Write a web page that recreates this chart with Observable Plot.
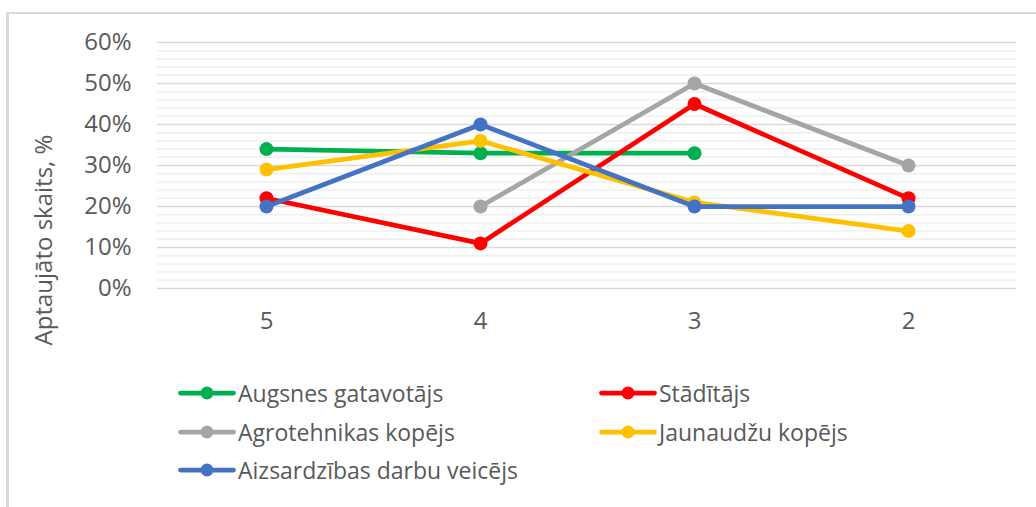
<!DOCTYPE html>
<html>
<head>
<meta charset="utf-8">
<script src="https://cdn.jsdelivr.net/npm/d3@7"></script>
<script src="https://cdn.jsdelivr.net/npm/@observablehq/plot@0.6"></script>
<style>
  html, body { margin: 0; padding: 0; background: #fff; }
  #wrap { position: relative; width: 1036px; height: 507px; overflow: hidden; font-family: "Open Sans", sans-serif; color: #595959; }
  #frame { position: absolute; left: 6px; top: 12px; width: 1040px; height: 500px; border-top: 2px solid #d9d9d9; border-left: 3px solid #d9d9d9; box-sizing: border-box; }
  #chart { position: absolute; left: 0; top: 0; }
  #chart svg text { font-size: 24px !important; font-family: "Open Sans", sans-serif !important; }
  #ylabel { position: absolute; left: 43px; top: 240px; transform: translate(-50%, -50%) rotate(-90deg); white-space: nowrap; font-size: 24px; line-height: 1; }
  .leg { position: absolute; display: flex; align-items: center; font-size: 23px; white-space: nowrap; transform: translateY(-50%); }
  .leg svg { display: block; margin-right: 2px; }
</style>
</head>
<body>
<div id="wrap">
  <div id="frame"></div>
  <div id="chart"></div>
  <div id="ylabel">Aptaujāto skaits, %</div>
  <div id="legend"></div>
</div>
<script>
const categories = ["5", "4", "3", "2"];
const seriesNames = ["Augsnes gatavotājs", "Stādītājs", "Agrotehnikas kopējs", "Jaunaudžu kopējs", "Aizsardzības darbu veicējs"];
const seriesColors = ["#00b050", "#ff0000", "#a5a5a5", "#ffc000", "#4472c4"];
const augsnesGatavotajs = [34, 33, 33, null];
const staditajs = [22, 11, 45, 22];
const agrotehnikasKopejs = [null, 20, 50, 30];
const jaunauduKopejs = [29, 36, 21, 14];
const aizsardzibasVeicejs = [20, 40, 20, 20];
const seriesValues = [augsnesGatavotajs, staditajs, agrotehnikasKopejs, jaunauduKopejs, aizsardzibasVeicejs];
const yMajorTicks = [0, 10, 20, 30, 40, 50, 60];
const yMinorTicks = d3.range(0, 61, 2).filter(v => v % 10 !== 0);

const rows = seriesNames.map((name, i) =>
  categories.map((c, j) => ({series: name, cat: c, value: seriesValues[i][j]}))
    .filter(d => d.value != null)
);

const seriesMarks = rows.flatMap((data, i) => [
  Plot.line(data, {x: "cat", y: "value", stroke: seriesColors[i], strokeWidth: 4.75, strokeLinejoin: "round", strokeLinecap: "round"}),
  Plot.dot(data, {x: "cat", y: "value", fill: seriesColors[i], r: 7, stroke: "none"})
]);

const chart = Plot.plot({
  width: 1036,
  height: 345,
  marginTop: 42,
  marginBottom: 57,
  marginLeft: 157,
  marginRight: 20,
  style: {fontFamily: "Open Sans, sans-serif", fontSize: "24px", color: "#595959", background: "transparent"},
  x: {type: "point", domain: categories, padding: 0.5},
  y: {domain: [0, 60]},
  marks: [
    Plot.ruleY(yMinorTicks, {stroke: "#f0f0f0", strokeWidth: 1.5}),
    Plot.ruleY(yMajorTicks, {stroke: "#d9d9d9", strokeWidth: 1.5}),
    Plot.axisY({ticks: yMajorTicks, tickSize: 0, tickPadding: 26, tickFormat: d => d + "%", label: null, fontSize: 24, fill: "#595959"}),
    Plot.axisX({tickSize: 0, tickPadding: 23, label: null, fontSize: 24, fill: "#595959"}),
    ...seriesMarks
  ]
});
document.getElementById("chart").appendChild(chart);

// Legend
const legendPos = [[178, 393], [599, 393], [178, 432], [599, 432], [178, 470]];
const legend = document.getElementById("legend");
seriesNames.forEach((name, i) => {
  const div = document.createElement("div");
  div.className = "leg";
  div.style.left = legendPos[i][0] + "px";
  div.style.top = legendPos[i][1] + "px";
  const c = seriesColors[i];
  div.innerHTML = `<svg width="58" height="16"><line x1="2.5" y1="8" x2="55.5" y2="8" stroke="${c}" stroke-width="4.75" stroke-linecap="round"/><circle cx="29" cy="8" r="6.5" fill="${c}"/></svg><span>${name}</span>`;
  legend.appendChild(div);
});
</script>
</body>
</html>
